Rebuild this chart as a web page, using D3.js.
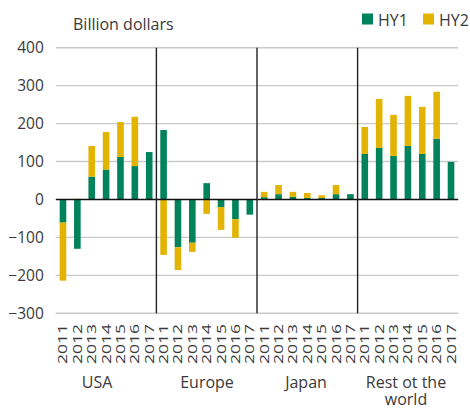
<!DOCTYPE html>
<html>
<head>
<meta charset="utf-8">
<script src="https://cdn.jsdelivr.net/npm/d3@7"></script>
<style>
  html, body { margin: 0; padding: 0; background: #fff; }
  svg { display: block; }
  text { font-family: "Open Sans", "Noto Sans", sans-serif; fill: #3a3a3a; }
</style>
</head>
<body>
<svg id="chart" width="470" height="409"></svg>
<script>
// ---- data ----
const regions = ["USA", "Europe", "Japan", "Rest ot the world"];
const regionLines = [["USA"], ["Europe"], ["Japan"], ["Rest ot the", "world"]];
const years = ["2011", "2012", "2013", "2014", "2015", "2016", "2017"];
const usaHY1 = [-61, -130, 60, 79, 112, 88, 125];
const usaHY2 = [-153, 2, 81, 99, 92, 130, 0];
const europeHY1 = [183, -126, -114, 43, -20, -52, -40];
const europeHY2 = [-146, -60, -24, -38, -60, -49, 0];
const japanHY1 = [6, 14, 7, 4, 4, 14, 14];
const japanHY2 = [14, 24, 13, 13, 7, 24, 0];
const restHY1 = [120, 136, 115, 141, 120, 160, 99];
const restHY2 = [71, 129, 108, 132, 124, 124, 0];
const yTicks = [400, 300, 200, 100, 0, -100, -200, -300];
const seriesNames = ["HY1", "HY2"];
const seriesColors = ["#00825a", "#e2b400"];

const hy1 = [usaHY1, europeHY1, japanHY1, restHY1];
const hy2 = [usaHY2, europeHY2, japanHY2, restHY2];

// flat table
const rows = [];
regions.forEach((r, ri) => {
  years.forEach((yr, yi) => {
    rows.push({ key: r + "|" + yr, region: r, ri, year: yr, hy1: hy1[ri][yi], hy2: hy2[ri][yi] });
  });
});

// ---- layout ----
const svg = d3.select("#chart");
const pLeft = 55.8, pRight = 458.2, pTop = 47.7, pBottom = 313.3;

const x = d3.scaleBand().domain(rows.map(d => d.key)).range([pLeft, pRight]).paddingInner(0).paddingOuter(0);
const y = d3.scaleLinear().domain([-300, 400]).range([pBottom, pTop]);
const barW = 6.6;

// gridlines
svg.append("g").selectAll("line").data(yTicks.filter(t => t !== 0)).join("line")
  .attr("x1", pLeft).attr("x2", pRight)
  .attr("y1", d => y(d)).attr("y2", d => y(d))
  .attr("stroke", "#c9c9c9").attr("stroke-width", 1.4);

// y tick labels
const yAxis = d3.axisLeft(y).tickValues(yTicks).tickSize(0).tickPadding(0);
const gy = svg.append("g").attr("transform", `translate(${pLeft - 12},0)`).call(yAxis);
gy.select(".domain").remove();
gy.selectAll("text").attr("font-size", 15.5).attr("fill", "#3a3a3a")
  .attr("font-family", "'Open Sans', sans-serif").attr("dy", "0.34em");

// stacked bars (diverging)
const segs = [];
rows.forEach(d => {
  let pos = 0, neg = 0;
  [d.hy1, d.hy2].forEach((v, si) => {
    if (v >= 0) { segs.push({ key: d.key, s: si, y0: pos, y1: pos + v }); pos += v; }
    else { segs.push({ key: d.key, s: si, y0: neg + v, y1: neg }); neg += v; }
  });
});
svg.append("g").selectAll("rect").data(segs.filter(s => s.y1 !== s.y0)).join("rect")
  .attr("x", d => x(d.key) + x.bandwidth() / 2 - barW / 2)
  .attr("width", barW)
  .attr("y", d => y(d.y1))
  .attr("height", d => y(d.y0) - y(d.y1))
  .attr("fill", d => seriesColors[d.s]);

// zero line
svg.append("line").attr("x1", pLeft).attr("x2", pRight)
  .attr("y1", y(0)).attr("y2", y(0)).attr("stroke", "#111").attr("stroke-width", 1.4);

// group dividers
svg.append("g").selectAll("line").data(regions.slice(1)).join("line")
  .attr("x1", r => x(r + "|" + years[0])).attr("x2", r => x(r + "|" + years[0]))
  .attr("y1", pTop).attr("y2", pBottom)
  .attr("stroke", "#222").attr("stroke-width", 1.4);

// x year labels (rotated)
svg.append("g").selectAll("text").data(rows).join("text")
  .attr("transform", d => `translate(${x(d.key) + x.bandwidth() / 2},324) rotate(-90) scale(1.4,1)`)
  .attr("text-anchor", "end").attr("dy", "0.36em")
  .attr("font-size", 12.5).attr("fill", "#3a3a3a")
  .text(d => d.year);

// region labels
const regionCenters = [97, 207, 306, 406];
regionLines.forEach((lines, i) => {
  lines.forEach((ln, li) => {
    svg.append("text").attr("x", regionCenters[i]).attr("y", 388 + li * 17)
      .attr("text-anchor", "middle").attr("font-size", 16).text(ln);
  });
});

// unit label
svg.append("text").attr("x", 73).attr("y", 30).attr("font-size", 16).text("Billion dollars");

// legend
const legendX = [362, 423];
seriesNames.forEach((n, i) => {
  svg.append("rect").attr("x", legendX[i]).attr("y", 13.5).attr("width", 11).attr("height", 11)
    .attr("fill", seriesColors[i]);
  svg.append("text").attr("x", legendX[i] + 16).attr("y", 25.5).attr("font-size", 16).text(n);
});
</script>
</body>
</html>
